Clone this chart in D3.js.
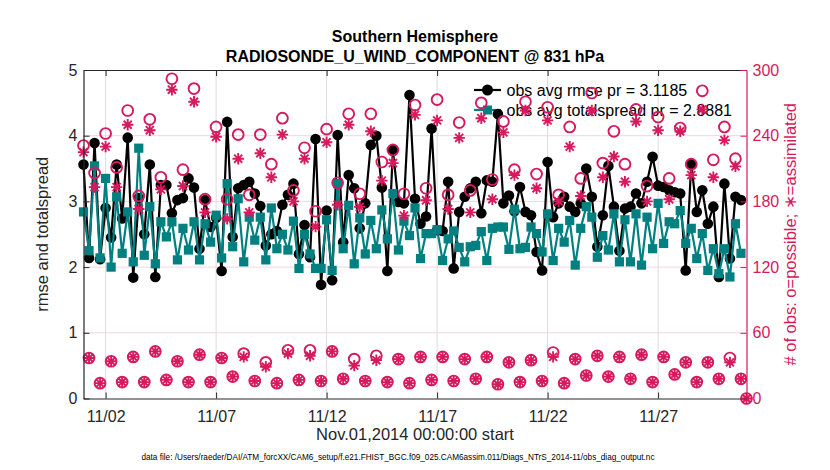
<!DOCTYPE html>
<html><head><meta charset="utf-8">
<script src="https://cdn.jsdelivr.net/npm/d3@7"></script>
<style>
body{margin:0;background:#fff}
svg{font-family:"Liberation Sans",Arial,Helvetica,sans-serif}
</style>
</head><body>
<svg id="chart" width="830" height="470"></svg>
<script>
// ---------------- data ----------------
const titleLines = ["Southern Hemisphere", "RADIOSONDE_U_WIND_COMPONENT @ 831 hPa"];
const xLabel = "Nov.01,2014 00:00:00 start";
const leftLabel = "rmse and totalspread";
const rightLabel = "# of obs: o=possible; \u2217=assimilated";
const noteText = "data file: /Users/raeder/DAI/ATM_forcXX/CAM6_setup/f.e21.FHIST_BGC.f09_025.CAM6assim.011/Diags_NTrS_2014-11/obs_diag_output.nc";
const legendLabels = ["obs avg rmse pr = 3.1185", "obs avg totalspread pr = 2.8881"];
const xTickDates = ["2014-11-02","2014-11-07","2014-11-12","2014-11-17","2014-11-22","2014-11-27"];
const leftTicks = [0,1,2,3,4,5];
const rightTicks = [0,60,120,180,240,300];
const periodStart = "2014-11-01T00:00:00Z";
const periodEnd = "2014-12-01T00:00:00Z";
const binHours = 6;

const rmse = [3.56,2.14,3.89,2.12,2.90,2.45,3.56,2.74,3.97,1.84,
3.05,2.50,3.56,1.85,3.25,3.25,2.82,3.02,3.05,3.35,
3.21,2.28,3.02,2.61,2.75,1.94,4.21,2.46,3.20,3.25,
3.30,3.12,2.93,2.33,2.50,2.55,2.95,3.10,3.27,2.20,
2.64,2.15,3.95,1.73,2.86,1.80,4.01,2.38,3.40,3.20,
2.59,2.97,3.86,4.00,3.21,1.94,3.78,2.99,2.97,4.62,
3.04,2.66,2.77,4.11,2.56,2.55,3.30,1.98,2.84,3.07,
3.20,3.30,2.82,3.32,3.30,4.33,2.97,3.09,2.85,3.22,
2.84,2.79,2.23,1.95,3.60,2.76,2.97,3.07,2.92,2.84,
2.97,3.50,3.07,2.31,2.79,3.54,2.92,2.25,2.89,2.92,
3.12,2.97,3.30,3.68,3.24,3.22,3.17,3.14,3.12,1.95,
3.57,2.84,3.17,2.66,2.92,1.85,3.27,2.13,3.07,3.02,null];

const spread = [2.84,2.25,3.54,2.14,3.35,2.00,3.07,2.21,2.84,2.08,
3.81,2.18,2.92,2.05,2.69,2.46,2.69,2.11,2.59,2.26,
2.69,2.11,2.66,2.38,2.79,2.14,3.27,2.31,3.04,2.08,
2.76,2.41,2.76,2.11,2.90,2.28,2.50,2.26,2.70,1.98,
2.50,2.20,1.98,1.98,2.72,1.95,3.27,2.28,2.94,2.05,
2.75,2.20,2.71,2.28,2.87,2.43,3.12,2.26,2.70,2.48,
2.90,2.13,2.51,2.51,2.57,2.10,2.43,2.55,2.30,2.08,
2.31,2.33,2.54,2.10,2.59,2.61,2.61,2.27,2.88,2.28,
2.30,2.61,2.51,2.23,2.81,2.10,2.59,2.38,2.71,2.03,
2.59,2.92,2.76,2.15,2.48,2.26,2.81,2.08,2.72,2.08,
2.81,2.03,2.76,2.28,2.97,2.36,2.69,2.66,2.86,2.36,
2.59,2.13,2.51,1.95,2.28,1.90,2.28,1.85,2.66,2.21,null];

const possible = [231,37,206,14,242,34,211,15,263,38,
185,15,255,43,202,17,292,34,209,15,
283,40,182,15,248,37,182,20,241,41,
186,16,241,33,214,14,256,44,190,17,
229,44,171,16,246,43,197,18,260,36,
187,16,260,39,216,15,227,36,187,14,
268,38,192,17,273,38,186,16,252,36,
190,18,270,38,200,13,253,33,209,15,
271,35,205,16,266,42,186,14,248,36,
201,21,279,39,215,20,244,38,214,18,
264,40,194,15,257,38,201,22,247,33,
214,15,281,33,218,18,248,37,219,18,0];

const assimilated = [225,37,193,14,230,34,193,15,250,38,
173,15,245,43,191,17,282,34,194,15,
271,40,170,15,239,37,164,20,219,38,
170,16,224,29,202,14,241,41,180,17,
219,39,157,16,234,43,177,18,250,30,
175,16,244,35,199,15,215,36,167,14,
259,38,181,17,254,38,173,16,238,36,
170,18,256,38,182,13,243,33,204,15,
263,35,192,16,254,38,180,14,230,36,
185,21,263,39,202,20,221,38,198,18,
253,40,180,15,245,38,182,22,244,33,
204,15,264,33,202,18,236,33,212,18,0];

// ---------------- layout ----------------
const W = 830, H = 470;
const plot = {left: 83.5, right: 746.5, top: 70, bottom: 398.5};
const COL_PINK = "#d7195d", COL_TEAL = "#008080", COL_BLACK = "#000";

const svg = d3.select("#chart");

const times = d3.utcHour.every(binHours).range(new Date(periodStart), d3.utcHour.offset(new Date(periodEnd), 1));
const x = d3.scaleUtc().domain([new Date(periodStart), new Date(periodEnd)]).range([plot.left, plot.right]);
const yL = d3.scaleLinear().domain([0,5]).range([plot.bottom, plot.top]);
const yR = d3.scaleLinear().domain([0,300]).range([plot.bottom, plot.top]);
const tickDates = xTickDates.map(s => new Date(s + "T00:00:00Z"));

// grid
const grid = svg.append("g");
grid.selectAll("line.vg").data(tickDates).join("line")
  .attr("x1", d => x(d)).attr("x2", d => x(d))
  .attr("y1", plot.top).attr("y2", plot.bottom)
  .attr("stroke", "#dcdcdc").attr("stroke-width", 1);
grid.selectAll("line.hg").data(rightTicks.slice(1, -1)).join("line")
  .attr("x1", plot.left).attr("x2", plot.right)
  .attr("y1", d => yR(d)).attr("y2", d => yR(d))
  .attr("stroke", "#f5d3df").attr("stroke-width", 1);

// legend (drawn beneath the data markers, no box)
const legend = svg.append("g");
const legRows = [
  {label: legendLabels[0], color: COL_BLACK, shape: "circle"},
  {label: legendLabels[1], color: COL_TEAL, shape: "square"}
];
legRows.forEach((r, i) => {
  const yy = 90 + i * 20;
  legend.append("line").attr("x1", 474).attr("x2", 501).attr("y1", yy).attr("y2", yy)
    .attr("stroke", r.color).attr("stroke-width", 2.2);
  if (r.shape === "circle") legend.append("circle").attr("cx", 487.5).attr("cy", yy).attr("r", 5.5).attr("fill", r.color);
  else legend.append("rect").attr("x", 483).attr("y", yy - 4.5).attr("width", 9).attr("height", 9).attr("fill", r.color);
  legend.append("text").attr("x", 506.5).attr("y", yy + 5.5).attr("font-size", 16).attr("fill", "#000").text(r.label);
});

// rmse & spread series
const series = svg.append("g");
const lineL = (vals) => d3.line().defined((d, i) => vals[i] != null)
  .x((d, i) => x(times[i])).y((d, i) => yL(vals[i]));
series.append("path").datum(rmse).attr("d", lineL(rmse))
  .attr("fill", "none").attr("stroke", COL_BLACK).attr("stroke-width", 2.2);
series.selectAll("circle.rm").data(rmse.map((v, i) => ({v, t: times[i]})).filter(d => d.v != null)).join("circle")
  .attr("cx", d => x(d.t)).attr("cy", d => yL(d.v)).attr("r", 5.3).attr("fill", COL_BLACK);

series.append("path").datum(spread).attr("d", lineL(spread))
  .attr("fill", "none").attr("stroke", COL_TEAL).attr("stroke-width", 2.2);
series.selectAll("rect.sp").data(spread.map((v, i) => ({v, t: times[i]})).filter(d => d.v != null)).join("rect")
  .attr("x", d => x(d.t) - 4.6).attr("y", d => yL(d.v) - 4.6).attr("width", 9.2).attr("height", 9.2)
  .attr("fill", COL_TEAL);

// counts on right axis
const asterisk = {
  draw(ctx, size) {
    const r = Math.sqrt(size) / 2, d = r * Math.SQRT1_2;
    ctx.moveTo(-r, 0); ctx.lineTo(r, 0);
    ctx.moveTo(0, -r); ctx.lineTo(0, r);
    ctx.moveTo(-d, -d); ctx.lineTo(d, d);
    ctx.moveTo(-d, d); ctx.lineTo(d, -d);
  }
};
const counts = svg.append("g");
counts.selectAll("path.as").data(assimilated.map((v, i) => ({v, t: times[i]}))).join("path")
  .attr("transform", d => `translate(${x(d.t)},${yR(d.v)})`)
  .attr("d", d3.symbol().type(asterisk).size(130)())
  .attr("fill", "none").attr("stroke", COL_PINK).attr("stroke-width", 1.9);
counts.selectAll("circle.po").data(possible.map((v, i) => ({v, t: times[i]}))).join("circle")
  .attr("cx", d => x(d.t)).attr("cy", d => yR(d.v)).attr("r", 5.4)
  .attr("fill", "none").attr("stroke", COL_PINK).attr("stroke-width", 1.9);

// axes
const fmt = d3.utcFormat("%m/%d");
const axB = svg.append("g").attr("transform", `translate(0,${plot.bottom})`)
  .call(d3.axisBottom(x).tickValues(tickDates).tickFormat(fmt).tickSizeInner(-6).tickSizeOuter(0).tickPadding(12));
const axT = svg.append("g").attr("transform", `translate(0,${plot.top})`)
  .call(d3.axisTop(x).tickValues(tickDates).tickFormat("").tickSizeInner(-6).tickSizeOuter(0));
const axL = svg.append("g").attr("transform", `translate(${plot.left},0)`)
  .call(d3.axisLeft(yL).tickValues(leftTicks).tickFormat(d3.format("d")).tickSizeInner(-6).tickSizeOuter(0).tickPadding(6));
const axR = svg.append("g").attr("transform", `translate(${plot.right},0)`)
  .call(d3.axisRight(yR).tickValues(rightTicks).tickFormat(d3.format("d")).tickSizeInner(-6).tickSizeOuter(0).tickPadding(6));

[axB, axT, axL].forEach(a => {
  a.selectAll("path.domain").attr("stroke", "#262626").attr("stroke-width", 1.2);
  a.selectAll(".tick line").attr("stroke", "#262626");
  a.selectAll("text").attr("font-size", 16).attr("fill", "#262626").attr("font-family", null);
});
axR.selectAll("path.domain").attr("stroke", COL_PINK).attr("stroke-width", 1.2);
axR.selectAll(".tick line").attr("stroke", COL_PINK);
axR.selectAll("text").attr("font-size", 16).attr("fill", COL_PINK).attr("font-family", null);
axT.selectAll(".tick text").remove();

// titles & labels
svg.append("text").attr("x", 415).attr("y", 42).attr("text-anchor", "middle")
  .attr("font-size", 16).attr("font-weight", "bold").attr("fill", "#000").text(titleLines[0]);
svg.append("text").attr("x", 415).attr("y", 62).attr("text-anchor", "middle")
  .attr("font-size", 16).attr("font-weight", "bold").attr("fill", "#000").text(titleLines[1]);
svg.append("text").attr("x", 415).attr("y", 440).attr("text-anchor", "middle")
  .attr("font-size", 16.5).attr("fill", "#262626").text(xLabel);
svg.append("text").attr("transform", `translate(48,${(plot.top + plot.bottom) / 2}) rotate(-90)`)
  .attr("text-anchor", "middle").attr("font-size", 16.5).attr("fill", "#262626").text(leftLabel);
svg.append("text").attr("transform", `translate(796,${(plot.top + plot.bottom) / 2}) rotate(-90)`)
  .attr("text-anchor", "middle").attr("font-size", 16.5).attr("fill", COL_PINK).text(rightLabel);
svg.append("text").attr("x", 398).attr("y", 460).attr("text-anchor", "middle")
  .attr("font-size", 8.2).attr("fill", "#000").text(noteText);
</script>
</body></html>
